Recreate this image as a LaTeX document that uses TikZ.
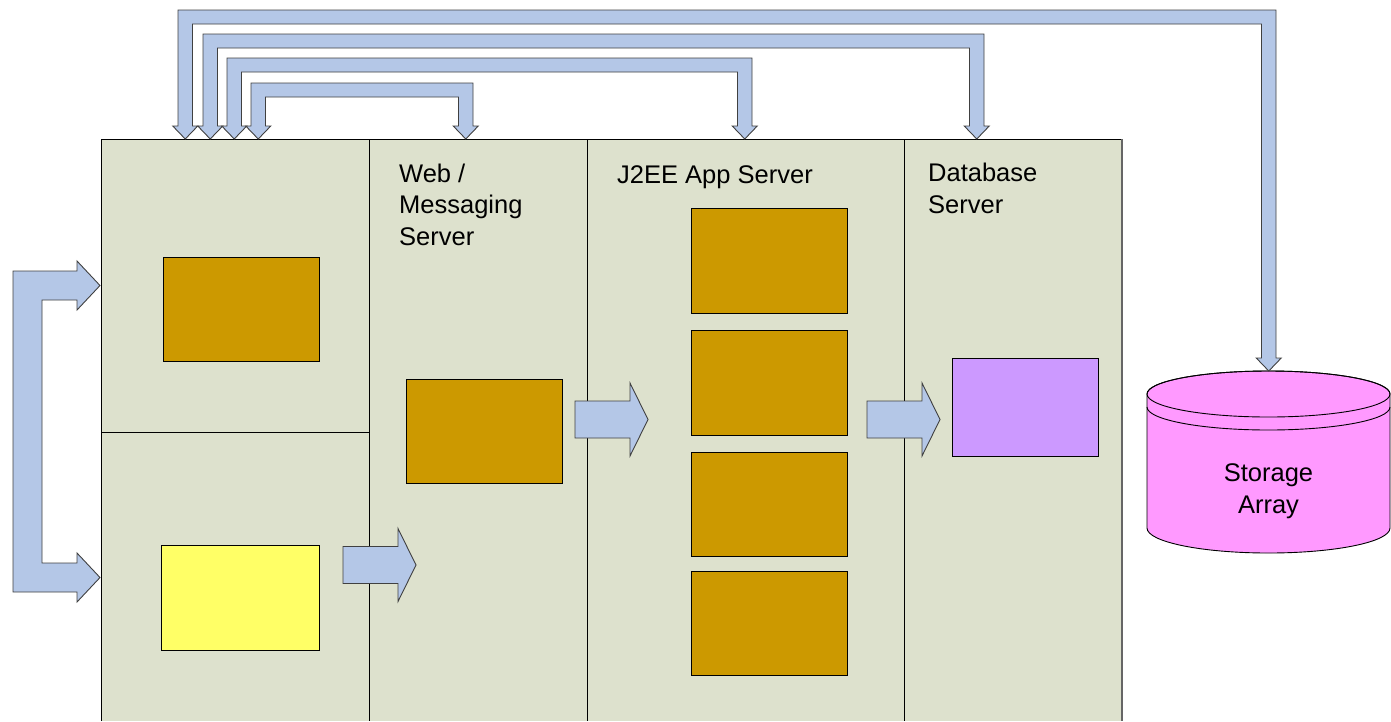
\documentclass[tikz,border=0pt]{standalone}
\usepackage{fontspec}
\setmainfont{Liberation Sans}
\usetikzlibrary{shadows}
\definecolor{panelc}{HTML}{DDE1CD}
\definecolor{arrowc}{HTML}{B4C7E7}
\definecolor{orangec}{HTML}{CC9900}
\definecolor{yellowc}{HTML}{FFFF66}
\definecolor{purplec}{HTML}{CC99FF}
\definecolor{pinkc}{HTML}{FF99FF}
\tikzset{
  blockarrow/.style={fill=arrowc, draw=black!75, line width=0.9pt, line join=miter},
  boxnode/.style={draw=black, line width=0.9pt, inner sep=0pt,
    drop shadow={shadow xshift=1.2pt, shadow yshift=-1.2pt, fill=black!55, opacity=1}},
  labeltext/.style={font=\fontsize{25.5}{31.5}\selectfont, inner sep=0pt, align=left},
  divider/.style={draw=black, line width=0.9pt}
}
% top bent double arrow: #1 left outer x, #2 top outer y, #3 right outer x, #4 right tip y
\newcommand\tbarrow[4]{%
  \filldraw[blockarrow] ({#1+7.25},139) -- ({#1+19.75},126) -- ({#1+14.5},126)
    -- ({#1+14.5},{#2+14}) -- ({#3-14.5},{#2+14}) -- ({#3-14.5},{#4-13})
    -- ({#3-19.75},{#4-13}) -- ({#3-7.25},#4) -- ({#3+5.25},{#4-13})
    -- (#3,{#4-13}) -- (#3,#2) -- (#1,#2) -- (#1,126) -- ({#1-5.25},126) -- cycle;}
% straight right block arrow: #1 tail x, #2 centre y
\newcommand\rtarrow[2]{%
  \filldraw[blockarrow] (#1,{#2-18.5}) -- ({#1+55},{#2-18.5}) -- ({#1+55},{#2-36.5})
    -- ({#1+73},#2) -- ({#1+55},{#2+36.5}) -- ({#1+55},{#2+18.5}) -- (#1,{#2+18.5}) -- cycle;}
\begin{document}
\begin{tikzpicture}[x=1pt,y=-1pt]
\useasboundingbox (0,0) rectangle (1391,721);
% panel background
\fill[panelc] (101,139) rectangle (1122,721);
\draw[divider] (101,721) -- (101,139) -- (1122,139);
\draw[draw=black!60, line width=1.6pt] (1122,139) -- (1122,721);
\draw[divider] (369,139) -- (369,721);
\draw[divider] (587,139) -- (587,721);
\draw[divider] (904,139) -- (904,721);
\draw[divider] (101,432) -- (369,432);
% labels (base anchor = baseline of last line)
\node[labeltext, anchor=base west] (weblbl) at (399,245) {Web /\\Messaging\\Server};
\node[labeltext, anchor=base west] (j2eelbl) at (617,183) {J2EE App Server};
\node[labeltext, anchor=base west] (dblbl) at (928,213) {Database\\Server};
% boxes
\node[boxnode, fill=orangec, minimum width=156pt, minimum height=104pt] (client1) at (241,309) {};
\node[boxnode, fill=yellowc, minimum width=158pt, minimum height=105pt] (client2) at (240,597.5) {};
\node[boxnode, fill=orangec, minimum width=156pt, minimum height=104pt] (web) at (484,431) {};
\node[boxnode, fill=orangec, minimum width=156pt, minimum height=105pt] (app1) at (769,260.5) {};
\node[boxnode, fill=orangec, minimum width=156pt, minimum height=105pt] (app2) at (769,382.5) {};
\node[boxnode, fill=orangec, minimum width=156pt, minimum height=104pt] (app3) at (769,504) {};
\node[boxnode, fill=orangec, minimum width=156pt, minimum height=104pt] (app4) at (769,623) {};
\node[boxnode, fill=purplec, minimum width=146pt, minimum height=98pt] (db) at (1025,407) {};
% storage cylinder
\filldraw[fill=pinkc, draw=black, line width=0.9pt] (1147,394) -- (1147,528)
  arc[start angle=180, end angle=360, x radius=121.5pt, y radius=25pt]
  -- (1390,394)
  arc[start angle=0, end angle=180, x radius=121.5pt, y radius=23pt] -- cycle;
\draw[black, line width=0.9pt] (1268.5,394) ellipse [x radius=121.5pt, y radius=23pt];
\draw[black, line width=0.9pt] (1147,407)
  arc[start angle=180, end angle=360, x radius=121.5pt, y radius=23pt];
\node[labeltext, align=center, anchor=base] (storage) at (1268.5,513) {Storage\\Array};
% straight block arrows
\rtarrow{343}{565}
\rtarrow{575}{419.5}
\rtarrow{867}{419.5}
% left double arrow
\filldraw[blockarrow] (100,285.5) -- (77,261) -- (77,271) -- (13,271) -- (13,592)
  -- (77,592) -- (77,602) -- (100,577.5) -- (77,553) -- (77,563) -- (42,563)
  -- (42,300) -- (77,300) -- (77,310) -- cycle;
% top arrows
\tbarrow{251}{83}{473}{139}
\tbarrow{227}{58}{752}{139}
\tbarrow{203}{34}{984}{139}
\tbarrow{178}{10}{1276}{371}
\end{tikzpicture}
\end{document}
